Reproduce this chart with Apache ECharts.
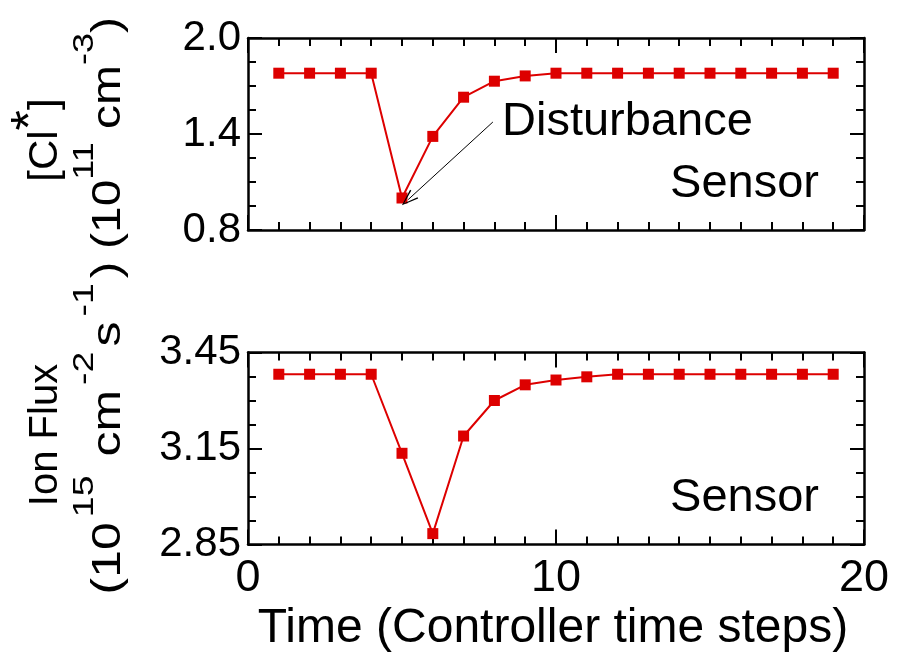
<!DOCTYPE html>
<html>
<head>
<meta charset="utf-8">
<script src="https://cdn.jsdelivr.net/npm/echarts@6/dist/echarts.min.js"></script>
<style>
html,body{margin:0;padding:0;background:#fff;}
#c{width:906px;height:654px;}
</style>
</head>
<body>
<div id="c"></div>
<script>
// ---- data ----
const steps = [1,2,3,4,5,6,7,8,9,10,11,12,13,14,15,16,17,18,19];
const clValues = [1.78,1.78,1.78,1.78,1.00,1.385,1.63,1.73,1.763,1.78,1.78,1.78,1.78,1.78,1.78,1.78,1.78,1.78,1.78];
const fluxValues = [3.382,3.382,3.382,3.382,3.135,2.884,3.189,3.300,3.349,3.364,3.374,3.382,3.382,3.382,3.382,3.382,3.382,3.382,3.382];
const xTicks = [0,10,20];
const clTicks = [0.8,1.4,2.0];
const fluxTicks = [2.85,3.15,3.45];
const arrowFrom = [7.95,1.475];
const arrowTo = [5.2,0.99];

const FONT = 'Liberation Sans, Arial, Helvetica, sans-serif';
const RED = '#dd0000';

const chart = echarts.init(document.getElementById('c'), null, {renderer:'canvas'});

function xAxisCfg(grid, pos, showLabel){
  return {
    gridIndex: grid, type:'value', position: pos,
    min: xTicks[0], max: xTicks[xTicks.length-1], interval: xTicks[1]-xTicks[0],
    axisLine:{show:true,onZero:false,lineStyle:{color:'#000',width:2.5}},
    axisTick:{show:true,inside:true,length:15,lineStyle:{color:'#000',width:2}},
    minorTick:{show:true,splitNumber:10,length:8,lineStyle:{color:'#000',width:2}},
    splitLine:{show:false}, minorSplitLine:{show:false},
    axisLabel:{show:showLabel,color:'#000',fontSize:45,fontFamily:FONT,margin:12}
  };
}
function yAxisCfg(grid, pos, ticks, showLabel, digits){
  return {
    gridIndex: grid, type:'value', position: pos,
    min: ticks[0], max: ticks[ticks.length-1], interval: +(ticks[1]-ticks[0]).toFixed(4),
    axisLine:{show:true,onZero:false,lineStyle:{color:'#000',width:2.5}},
    axisTick:{show:true,inside:true,length:14,lineStyle:{color:'#000',width:2}},
    minorTick:{show:true,splitNumber:4,length:8,lineStyle:{color:'#000',width:2}},
    splitLine:{show:false}, minorSplitLine:{show:false},
    axisLabel:{show:showLabel,color:'#000',fontSize:42,fontFamily:FONT,margin:7,
      formatter:(v)=>v.toFixed(digits)}
  };
}

const arrowPath = 'path://M0,0 L-6,16 L-4.6,16.4 L0,3 L4.6,16.4 L6,16 Z';

function vtext(x,y,text,rich,sx){
  return {type:'text', x:x, y:y, rotation:Math.PI/2, scaleX:sx, scaleY:1,
    style:{text:text, rich:rich, align:'center', verticalAlign:'middle', fill:'#000', font:'40px '+FONT}};
}
const richY = {
  a:{fontSize:40, fontFamily:FONT, lineHeight:78, color:'#000'},
  st:{fontSize:50, fontFamily:FONT, lineHeight:68, verticalAlign:'top', color:'#000'},
  s:{fontSize:30, fontFamily:FONT, lineHeight:30, verticalAlign:'top', color:'#000'},
  sp:{fontSize:30, fontFamily:FONT, lineHeight:30, verticalAlign:'top', color:'#000', padding:[0,4,0,4]}
};

const option = {
  animation:false,
  backgroundColor:'#fff',
  grid:[
    {left:248, top:38, width:616, height:192, containLabel:false},
    {left:248, top:352.5, width:616, height:192, containLabel:false}
  ],
  xAxis:[
    xAxisCfg(0,'bottom',false), xAxisCfg(0,'top',false),
    xAxisCfg(1,'bottom',true), xAxisCfg(1,'top',false)
  ],
  yAxis:[
    yAxisCfg(0,'left',clTicks,true,1), yAxisCfg(0,'right',clTicks,false,1),
    yAxisCfg(1,'left',fluxTicks,true,2), yAxisCfg(1,'right',fluxTicks,false,2)
  ],
  series:[
    {type:'line', xAxisIndex:0, yAxisIndex:0,
     data: steps.map((s,i)=>[s,clValues[i]]),
     symbol:'rect', symbolSize:11, showSymbol:true,
     lineStyle:{color:RED,width:2}, itemStyle:{color:RED},
     markLine:{silent:true, symbol:['none',arrowPath], symbolSize:[12,17],
       lineStyle:{color:'#000',width:1,type:'solid'}, itemStyle:{color:'#000'},
       label:{show:false},
       data:[[{coord:arrowFrom},{coord:arrowTo}]]}
    },
    {type:'line', xAxisIndex:2, yAxisIndex:2,
     data: steps.map((s,i)=>[s,fluxValues[i]]),
     symbol:'rect', symbolSize:11, showSymbol:true,
     lineStyle:{color:RED,width:2}, itemStyle:{color:RED}}
  ],
  graphic:[
    {type:'text', x:502, y:122, style:{text:'Disturbance', font:'47px '+FONT, fill:'#000', align:'left', verticalAlign:'middle'}},
    {type:'text', x:819, y:184, style:{text:'Sensor', font:'47px '+FONT, fill:'#000', align:'right', verticalAlign:'middle'}},
    {type:'text', x:819, y:498, style:{text:'Sensor', font:'47px '+FONT, fill:'#000', align:'right', verticalAlign:'middle'}},
    {type:'text', x:553, y:629, style:{text:'Time (Controller time steps)', font:'48px '+FONT, fill:'#000', align:'center', verticalAlign:'middle'}},
    vtext(46,140,'{a|[Cl}{st|*}{a|]}',richY,1.05),
    vtext(109,133,'{a|(10}{s|11}{a| cm}{s|-3}{a|)}',richY,1.2),
    {type:'text', x:46, y:435, rotation:Math.PI/2,
     style:{text:'Ion Flux', font:'40px '+FONT, fill:'#000', align:'center', verticalAlign:'middle'}},
    vtext(109,428,'{a|(10}{sp|15}{a| cm}{sp|-2}{a|s}{sp|-1}{a|)}',richY,1.25)
  ]
};
chart.setOption(option);
</script>
</body>
</html>
